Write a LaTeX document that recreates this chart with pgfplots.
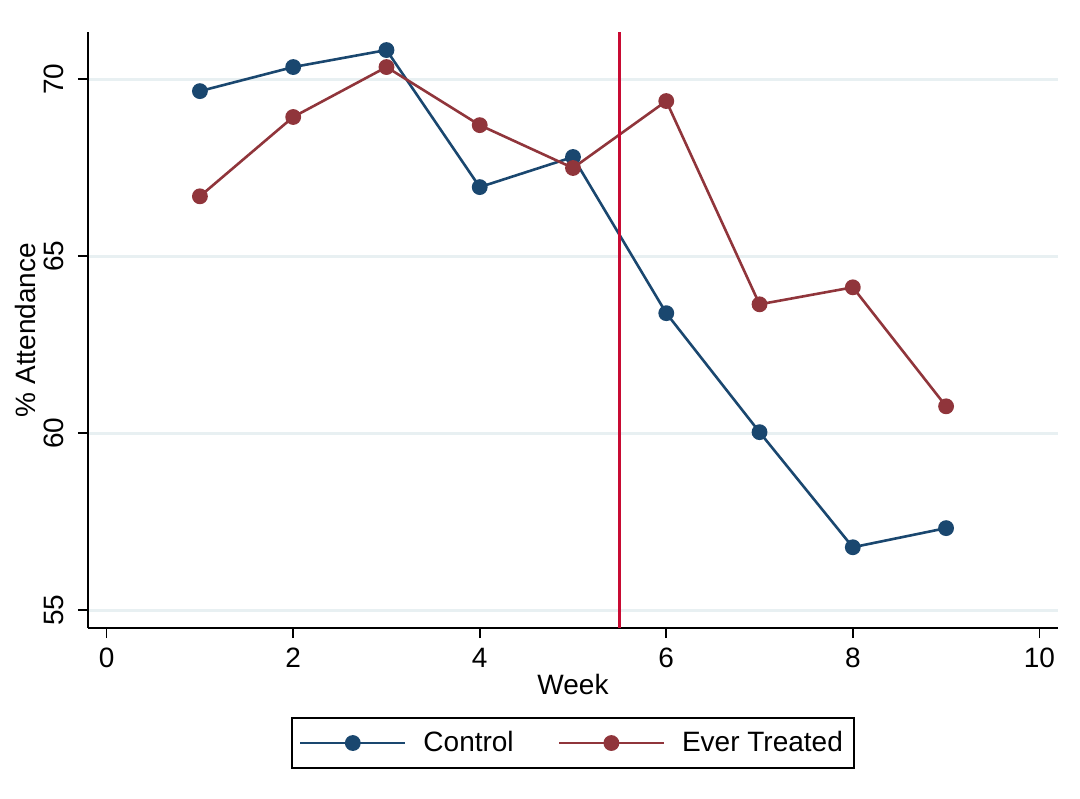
\documentclass[border=0pt]{standalone}
\usepackage{pgfplots}
\pgfplotsset{compat=1.18}
\usepackage{fontspec}
\setmainfont{Liberation Sans}
\definecolor{navy}{RGB}{26,71,111}
\definecolor{maroon}{RGB}{144,53,59}
\definecolor{vred}{RGB}{200,10,50}
\definecolor{gridc}{RGB}{232,240,242}
\begin{document}
\fontsize{14}{16}\selectfont
\begin{tikzpicture}
\path (-44pt,-85pt) rectangle (496pt,314pt);
\begin{axis}[
  name=ax, at={(0,0)}, anchor=south west,
  scale only axis, width=485pt, height=298pt,
  xmin=-0.2, xmax=10.2, ymin=54.5, ymax=71.33,
  axis x line*=bottom, axis y line*=left,
  axis line style={-, line width=0.8pt},
  xtick={0,2,...,10}, ytick={55,60,65,70},
  tick align=outside, major tick length=5pt,
  tick style={line width=0.8pt, black},
  ymajorgrids, grid style={gridc, line width=1.5pt},
  /pgf/number format/assume math mode=true,
  ticklabel style={font=\fontsize{14}{16}\selectfont},
  yticklabel style={rotate=90, anchor=south},
  yticklabel shift=2pt,
  label style={font=\fontsize{14}{16}\selectfont},
  xlabel={Week}, ylabel={\% Attendance},
  xlabel style={yshift=6pt},
  ylabel style={yshift=-5pt},
  legend columns=2,
  legend style={at={(0.5,-0.193)}, anchor=center, draw=black, line width=0.8pt,
    font=\fontsize{14}{16}\selectfont, inner xsep=3.5pt, inner ysep=4.5pt,
    /tikz/every odd column/.append style={column sep=6.5pt},
    /tikz/every even column/.append style={column sep=20pt}},
  legend image code/.code={\draw[mark repeat=2,mark phase=2] plot coordinates {(0cm,0cm) (0.92cm,0cm) (1.84cm,0cm)};},
  every axis plot/.append style={line width=1.3pt, mark=*, mark size=3.3pt},
]
\addplot[navy, mark options={fill=navy, draw=navy}] coordinates {
(1,69.66) (2,70.34) (3,70.82) (4,66.95) (5,67.80) (6,63.39) (7,60.03) (8,56.78) (9,57.32)};
\addlegendentry{Control}
\addplot[maroon, mark options={fill=maroon, draw=maroon}] coordinates {
(1,66.69) (2,68.93) (3,70.34) (4,68.70) (5,67.49) (6,69.38) (7,63.64) (8,64.12) (9,60.76)};
\addlegendentry{Ever Treated}
\addplot[vred, line width=1.4pt, mark=none, forget plot] coordinates {(5.5,54.5) (5.5,71.33)};
\end{axis}
\end{tikzpicture}
\end{document}
